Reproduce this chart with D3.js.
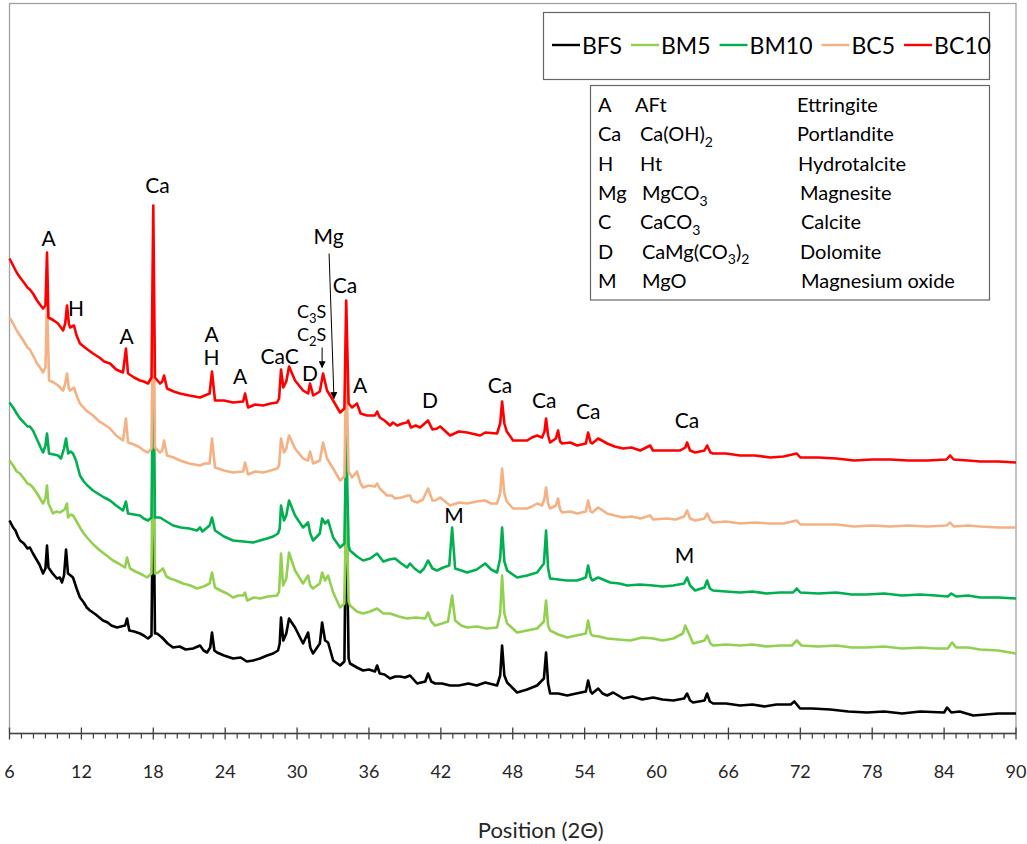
<!DOCTYPE html>
<html><head><meta charset="utf-8">
<script src="https://cdn.jsdelivr.net/npm/d3@7"></script>
<style>
body{margin:0;background:#fff}
svg{display:block;font-family:Lato,'Open Sans',sans-serif}
</style>
</head><body>
<svg id="chart" width="1027" height="844"></svg>
<script>
// ---------------- DATA ----------------
const seriesNames = ["BFS", "BM5", "BM10", "BC5", "BC10"];
const xTicks = [6, 12, 18, 24, 30, 36, 42, 48, 54, 60, 66, 72, 78, 84, 90];
const xTitle = "Position (2Θ)";

// [2θ, intensity]
const BFS = [[6.0,213],[6.3,206],[6.5,203],[6.7,197],[6.88,193],[7.2,190],[7.5,185],[7.7,186],[7.96,180],[8.2,175],[8.5,169],[8.8,160],[9.0,165],[9.13,188],[9.25,166],[9.6,160],[9.96,155],[10.2,156],[10.38,151],[10.55,158],[10.72,184],[10.88,160],[11.1,158],[11.3,156],[11.6,145],[11.88,136],[12.2,131],[12.45,126],[12.72,123],[13.2,119],[13.5,116],[13.8,113],[14.2,111],[14.5,108],[14.97,106],[15.3,107],[15.65,108],[15.81,115],[16.0,103],[16.4,102],[16.89,100],[17.2,98],[17.56,95],[17.85,98],[18.0,270],[18.14,100],[18.31,100],[18.73,96],[19.2,90],[19.65,86],[20.2,87],[20.7,84],[21.32,85],[21.9,88],[22.2,83],[22.49,81],[22.75,86],[22.9,101],[23.1,83],[23.32,81],[23.9,78],[24.66,75],[25.3,76],[25.8,72],[26.33,73],[26.9,75],[27.5,78],[28.0,80],[28.41,83],[28.55,90],[28.66,116],[28.85,93],[29.1,100],[29.33,115],[29.83,106],[30.5,90],[30.92,101],[31.1,86],[31.33,80],[31.9,90],[32.09,111],[32.34,93],[32.59,91],[33.01,73],[33.59,68],[33.95,72],[34.1,240],[34.3,75],[34.42,70],[35.0,66],[35.51,63],[36.0,64],[36.5,62],[36.68,68],[36.9,60],[37.3,59],[37.76,55],[38.2,57],[38.6,57],[39.0,56],[39.43,58],[40.02,50],[40.7,52],[40.93,60],[41.2,52],[41.52,50],[42.1,50],[42.77,48],[43.5,48],[44.3,50],[45.0,48],[45.7,51],[46.69,48],[46.95,58],[47.11,88],[47.3,58],[47.53,51],[48.36,41],[49.2,44],[50.03,48],[50.6,55],[50.78,81],[50.95,50],[51.12,40],[51.8,40],[52.54,38],[53.3,40],[54.1,42],[54.29,53],[54.5,42],[54.63,40],[55.13,45],[55.5,40],[55.88,38],[56.38,41],[57.22,35],[58.0,37],[58.8,34],[59.72,36],[60.5,34],[61.39,33],[62.3,35],[62.55,40],[62.8,33],[63.05,31],[64.0,33],[64.22,40],[64.45,32],[64.72,30],[65.8,30],[66.97,28],[68.0,29],[69.0,27],[70.0,29],[71.2,29],[71.5,32],[71.98,25],[73.0,25],[74.5,24],[76.0,22],[77.57,21],[79.0,22],[80.5,20],[82.0,22],[84.0,21],[84.25,26],[84.6,21],[85.3,22],[86.43,18],[87.5,19],[88.5,20],[90,20]];

const BM5 = [[6.0,273],[6.3,268],[6.6,262],[6.88,260],[7.2,255],[7.5,250],[7.7,249],[7.96,246],[8.3,240],[8.6,234],[8.8,230],[9.0,235],[9.13,248],[9.25,230],[9.63,220],[9.9,222],[10.22,221],[10.6,224],[10.8,230],[10.88,216],[11.1,219],[11.3,218],[11.6,212],[11.88,206],[12.2,200],[12.47,196],[13.0,189],[13.55,183],[14.1,178],[14.64,173],[15.1,170],[15.64,166],[15.81,176],[16.06,165],[16.5,162],[16.89,160],[17.2,158],[17.48,156],[17.85,160],[18.0,330],[18.14,160],[18.4,161],[18.81,165],[19.1,157],[19.4,155],[19.9,153],[20.48,150],[21.1,148],[21.65,145],[22.2,147],[22.7,150],[22.9,161],[23.15,146],[23.6,143],[24.16,140],[24.66,136],[25.1,138],[25.5,138],[25.66,141],[25.83,133],[26.4,136],[26.92,135],[27.6,137],[28.33,138],[28.5,142],[28.66,180],[28.83,148],[29.1,155],[29.33,181],[29.83,163],[30.5,150],[30.92,158],[31.1,148],[31.33,145],[31.9,150],[32.09,161],[32.34,153],[32.59,158],[33.01,141],[33.59,126],[33.95,130],[34.1,240],[34.3,132],[34.42,128],[35.0,122],[35.51,120],[36.1,122],[36.68,125],[37.2,120],[37.76,120],[38.5,117],[39.18,115],[39.9,116],[40.7,115],[40.93,121],[41.2,112],[41.52,108],[42.1,110],[42.6,112],[42.94,138],[43.19,113],[43.7,108],[44.19,106],[45.0,107],[45.8,105],[46.69,106],[46.95,120],[47.11,158],[47.3,120],[47.53,110],[48.36,101],[49.2,103],[50.03,105],[50.6,112],[50.78,133],[50.95,108],[51.12,103],[51.8,99],[52.54,96],[53.3,98],[54.1,100],[54.29,113],[54.5,100],[54.63,98],[55.2,97],[55.88,95],[56.8,94],[57.8,93],[58.8,96],[59.72,95],[60.5,93],[61.39,95],[62.2,100],[62.39,108],[62.7,100],[63.05,90],[64.0,93],[64.22,98],[64.5,90],[64.72,88],[65.8,89],[66.97,88],[68.0,89],[69.2,87],[70.3,88],[71.3,88],[71.7,93],[72.1,88],[73.5,87],[75.0,88],[76.3,86],[77.5,86],[79.0,87],[80.5,85],[82.0,86],[83.3,85],[84.3,85],[84.67,91],[85.0,86],[86.0,86],[87,84],[88.5,83],[90,80]];

const BM10 = [[6.0,331],[6.3,326],[6.6,320],[6.88,315],[7.2,311],[7.5,307],[7.7,307],[7.96,303],[8.3,294],[8.6,286],[8.8,281],[9.0,288],[9.13,300],[9.3,280],[9.7,279],[10.05,278],[10.3,275],[10.55,285],[10.72,295],[10.9,280],[11.1,282],[11.3,280],[11.55,273],[11.88,258],[12.2,252],[12.5,248],[12.97,243],[13.5,239],[13.9,236],[14.39,233],[14.9,228],[15.47,223],[15.72,232],[15.89,220],[16.4,219],[16.89,218],[17.2,215],[17.56,213],[17.85,216],[18.0,390],[18.14,216],[18.56,216],[19.1,212],[19.65,208],[20.3,206],[21.0,205],[21.65,203],[21.9,206],[22.1,202],[22.7,208],[22.9,216],[23.15,203],[23.9,197],[24.66,193],[25.5,192],[26.33,191],[26.9,193],[27.5,195],[28.0,197],[28.41,200],[28.55,205],[28.66,228],[28.91,213],[29.1,218],[29.33,233],[29.83,218],[30.5,206],[30.92,211],[31.1,200],[31.33,193],[31.9,200],[32.09,215],[32.34,210],[32.59,213],[33.01,196],[33.59,186],[33.95,190],[34.1,300],[34.3,188],[34.42,183],[35.0,177],[35.51,173],[36.1,175],[36.68,180],[37.2,172],[37.7,174],[38.18,175],[38.7,170],[39.18,166],[39.43,170],[39.8,165],[40.27,161],[40.6,165],[40.93,173],[41.3,165],[41.68,163],[42.2,166],[42.7,168],[42.94,206],[43.19,165],[43.7,163],[44.19,161],[45.0,164],[45.7,170],[46.2,164],[46.69,161],[46.95,175],[47.11,206],[47.3,172],[47.53,163],[48.36,156],[49.2,158],[50.03,161],[50.6,170],[50.78,203],[50.95,165],[51.12,155],[51.8,154],[52.54,153],[53.37,153],[54.1,156],[54.29,168],[54.5,156],[54.63,153],[55.13,156],[56.13,151],[56.9,150],[57.55,148],[58.6,149],[59.72,148],[60.5,147],[61.39,148],[62.3,150],[62.55,156],[62.8,148],[63.22,143],[64.0,146],[64.22,153],[64.45,145],[64.72,143],[65.8,142],[66.97,141],[68.0,142],[69.2,140],[70.3,141],[71.4,141],[71.7,145],[72.0,141],[73.5,140],[75.0,141],[76.3,139],[77.5,139],[79.0,140],[80.5,138],[82.0,139],[83.3,138],[84.3,137],[84.6,140],[85.0,137],[86.0,138],[87,136],[88.5,136],[90,135]];

const BC5 = [[6.0,416],[6.3,410],[6.6,403],[6.88,398],[7.2,392],[7.5,386],[7.7,384],[7.96,378],[8.3,370],[8.6,365],[8.8,361],[9.0,366],[9.13,433],[9.3,353],[9.7,351],[10.05,348],[10.47,343],[10.65,350],[10.8,360],[10.95,345],[11.05,343],[11.38,346],[11.6,338],[11.88,330],[12.4,323],[12.97,318],[13.5,312],[13.9,309],[14.39,305],[14.9,298],[15.47,293],[15.72,315],[15.89,291],[16.4,289],[16.89,286],[17.2,283],[17.56,281],[17.85,285],[18.0,455],[18.14,286],[18.56,281],[18.75,283],[18.9,293],[19.15,278],[19.7,276],[20.23,273],[21.0,270],[21.9,268],[22.3,270],[22.7,270],[22.9,295],[23.15,266],[23.9,263],[24.66,261],[25.5,262],[25.66,271],[25.91,259],[26.5,262],[27.16,261],[27.8,263],[28.33,265],[28.5,268],[28.66,295],[28.91,281],[29.1,285],[29.33,298],[29.83,285],[30.5,275],[30.92,273],[31.08,282],[31.35,270],[31.9,273],[32.17,291],[32.5,275],[33.01,265],[33.59,253],[33.95,257],[34.1,368],[34.3,262],[34.59,256],[35.0,262],[35.3,250],[35.51,246],[36.0,248],[36.5,247],[36.68,250],[36.9,245],[37.51,238],[37.9,238],[38.18,235],[38.7,236],[39.27,238],[39.43,238],[39.6,233],[40.02,231],[40.5,234],[40.93,245],[41.3,233],[41.52,233],[41.94,236],[42.77,228],[43.5,231],[44.19,230],[45.0,232],[45.7,233],[46.2,230],[46.69,230],[46.95,240],[47.11,265],[47.3,240],[47.5,232],[48.03,225],[49.2,225],[49.6,227],[50.03,230],[50.45,228],[50.65,235],[50.78,246],[50.95,230],[51.12,225],[51.6,228],[51.78,235],[51.95,224],[52.12,221],[52.8,222],[53.37,220],[54.1,222],[54.29,233],[54.5,222],[54.63,221],[55.13,226],[55.88,220],[56.5,218],[57.22,216],[57.9,217],[58.64,215],[59.47,218],[59.7,214],[60.89,215],[61.6,214],[62.3,217],[62.55,223],[62.8,215],[63.22,213],[64.0,215],[64.22,220],[64.5,213],[64.72,211],[65.8,212],[66.97,210],[68.2,211],[69.5,210],[70.6,210],[71.7,213],[72.0,209],[73.5,209],[75,209],[76.5,207],[78,208],[79.5,207],[81,208],[82.6,207],[84.2,208],[84.5,211],[84.8,207],[86,208],[87,207],[88.5,206],[90,206]];

const BC10 = [[6.0,475],[6.3,468],[6.6,461],[6.88,456],[7.2,451],[7.5,446],[7.7,444],[7.96,440],[8.3,433],[8.6,428],[8.8,425],[9.0,428],[9.13,481],[9.25,416],[9.7,413],[10.05,410],[10.47,403],[10.65,410],[10.8,428],[10.95,410],[11.05,406],[11.38,408],[11.6,398],[11.88,390],[12.4,385],[12.97,380],[13.5,376],[13.9,372],[14.39,370],[14.9,364],[15.47,361],[15.72,385],[15.89,360],[16.4,356],[16.89,353],[17.2,352],[17.56,350],[17.85,356],[18.0,528],[18.14,356],[18.56,350],[18.75,352],[18.9,358],[19.15,345],[19.7,342],[20.23,340],[21.0,338],[21.9,336],[22.3,338],[22.7,340],[22.9,362],[23.15,333],[23.9,333],[24.66,331],[25.5,332],[25.66,340],[25.91,326],[26.5,329],[27.16,328],[27.8,330],[28.33,331],[28.5,335],[28.66,364],[28.85,346],[29.1,352],[29.33,367],[29.83,353],[30.5,343],[30.92,340],[31.08,350],[31.35,338],[31.9,342],[32.17,360],[32.5,343],[33.01,333],[33.59,321],[33.95,325],[34.1,433],[34.3,330],[34.59,326],[35.0,330],[35.3,320],[35.84,318],[36.5,318],[36.68,322],[36.9,316],[37.3,313],[37.76,308],[38.0,311],[38.35,308],[38.8,310],[39.18,311],[39.27,313],[39.5,306],[39.9,308],[40.27,306],[40.93,313],[41.3,304],[41.68,305],[41.94,307],[42.77,298],[43.5,302],[44.19,301],[45.28,298],[45.7,301],[46.69,300],[46.95,310],[47.11,332],[47.3,310],[47.5,302],[48.03,293],[49.2,293],[49.6,296],[50.03,298],[50.45,296],[50.65,302],[50.78,315],[50.95,298],[51.12,291],[51.6,295],[51.78,303],[51.95,292],[52.12,290],[52.8,291],[53.37,288],[54.1,290],[54.29,301],[54.5,291],[54.63,290],[55.13,295],[55.88,290],[56.5,287],[57.22,285],[57.9,286],[58.64,283],[59.47,288],[59.7,283],[60.89,283],[61.97,283],[62.4,286],[62.55,291],[62.8,283],[63.22,281],[64.0,283],[64.22,288],[64.5,281],[64.72,280],[65.8,280],[66.97,278],[68.2,278],[69.5,276],[70.6,277],[71.7,280],[72.0,276],[73.5,276],[75,275],[76.5,273],[78,274],[79.5,274],[81,273],[82.6,273],[84.2,274],[84.5,278],[84.8,274],[86,273],[87,272],[88.5,272],[90,271]];

const seriesData = [BFS, BM5, BM10, BC5, BC10];

// phase key table
const keyCodes = ["A", "Ca", "H", "Mg", "C", "D", "M"];
const keyFormulas = ["AFt", "Ca(OH)_2", "Ht", "MgCO_3", "CaCO_3", "CaMg(CO_3)_2", "MgO"];
const keyNames = ["Ettringite", "Portlandite", "Hydrotalcite", "Magnesite", "Calcite", "Dolomite", "Magnesium oxide"];

// peak labels: text, 2θ, intensity of label baseline
const peakLabelText = ["A","H","A","Ca","A","H","A","CaC","D","Mg","Ca","A","D","Ca","Ca","Ca","Ca","M","M"];
const peakLabelX    = [9.26,11.55,15.77,18.35,22.86,22.86,25.24,28.54,31.08,32.63,34.0,35.26,41.1,46.94,50.62,54.29,62.55,43.1,62.34];
const peakLabelY    = [488,418,390,541,392,369,350,370,353,490,441,341,326,341,326,315,306,211,171];
const phaseSmallText = ["C_3S", "C_2S"];
const phaseSmallX = [31.21, 31.21];
const phaseSmallY = [416, 393];
// arrows [x1,y1,x2,y2] in data units
const arrowMg  = [32.67, 480, 33.08, 335];
const arrowC2S = [32.09, 386, 32.09, 366];

// ---------------- STYLE ----------------
const colors = {BFS:"#000000", BM5:"#92D050", BM10:"#00B050", BC5:"#F4B183", BC10:"#FF0000"};

const svg = d3.select("#chart");
const plot = {left: 9.5, right: 1016, top: 3.5, bottom: 733.5};

const x = d3.scaleLinear().domain([6, 90]).range([plot.left, plot.right]);
const y = d3.scaleLinear().domain([0, 730]).range([plot.bottom, plot.bottom - 730]);

// frame
svg.append("rect").attr("x", plot.left).attr("y", plot.top)
  .attr("width", plot.right - plot.left).attr("height", plot.bottom - plot.top)
  .attr("fill", "none").attr("stroke", "#a0a0a0").attr("stroke-width", 1.3);

// series
const line = d3.line().x(d => x(d[0])).y(d => y(d[1])).curve(d3.curveLinear);
seriesData.forEach((s, i) => {
  svg.append("path").datum(s).attr("d", line)
    .attr("fill", "none").attr("stroke", colors[seriesNames[i]])
    .attr("stroke-width", 2.6).attr("stroke-linejoin", "round");
});

// x axis
const axisG = svg.append("g").attr("transform", `translate(0,${plot.bottom})`);
axisG.append("line").attr("x1", plot.left).attr("x2", plot.right).attr("stroke", "#404040").attr("stroke-width", 1.3);
const minor = d3.range(6, 91, 1).filter(v => !xTicks.includes(v));
axisG.selectAll("line.minor").data(minor).join("line").attr("class","minor")
  .attr("x1", d => x(d)).attr("x2", d => x(d)).attr("y1", 0).attr("y2", 5)
  .attr("stroke", "#404040").attr("stroke-width", 1.2);
axisG.selectAll("line.major").data(xTicks).join("line").attr("class","major")
  .attr("x1", d => x(d)).attr("x2", d => x(d)).attr("y1", -6).attr("y2", 6)
  .attr("stroke", "#404040").attr("stroke-width", 1.3);
axisG.selectAll("text").data(xTicks).join("text")
  .attr("x", d => x(d)).attr("y", 44).attr("text-anchor", "middle")
  .attr("font-size", 18).attr("fill", "#262626").text(d => d);

svg.append("text").attr("x", (plot.left + plot.right) / 2 + 28).attr("y", 838)
  .attr("text-anchor", "middle").attr("font-size", 22).attr("fill", "#262626").text(xTitle);

// helper for subscripts: "_d" marks a subscript digit
function richText(sel, str, size, subSize) {
  const parts = str.split(/_(\d)/);
  const shift = size * 0.28;
  let lowered = false;
  parts.forEach((p, i) => {
    if (!p) return;
    const ts = sel.append("tspan").text(p);
    if (i % 2 === 1) {
      ts.attr("font-size", subSize).attr("dy", shift);
      lowered = true;
    } else if (lowered) {
      ts.attr("dy", -shift);
      lowered = false;
    }
  });
}

// peak labels
peakLabelText.forEach((t, i) => {
  svg.append("text").attr("x", x(peakLabelX[i])).attr("y", y(peakLabelY[i]))
    .attr("text-anchor", "middle").attr("font-size", 21).attr("fill", "#000").text(t);
});
phaseSmallText.forEach((t, i) => {
  const tx = svg.append("text").attr("x", x(phaseSmallX[i])).attr("y", y(phaseSmallY[i]))
    .attr("text-anchor", "middle").attr("font-size", 18).attr("fill", "#000");
  richText(tx, t, 18, 13);
});

// arrows
const defs = svg.append("defs");
defs.append("marker").attr("id", "ah").attr("viewBox", "0 0 10 10").attr("refX", 9).attr("refY", 5)
  .attr("markerWidth", 7).attr("markerHeight", 7).attr("markerUnits", "userSpaceOnUse").attr("orient", "auto")
  .append("path").attr("d", "M0,0 L10,5 L0,10 Z").attr("fill", "#000");
[arrowMg, arrowC2S].forEach(a => {
  svg.append("line").attr("x1", x(a[0])).attr("y1", y(a[1])).attr("x2", x(a[2])).attr("y2", y(a[3]))
    .attr("stroke", "#000").attr("stroke-width", 1).attr("marker-end", "url(#ah)");
});

// legend 1 (series)
const lg = svg.append("g");
lg.append("rect").attr("x", 543.5).attr("y", 12.5).attr("width", 446).attr("height", 67)
  .attr("fill", "#fff").attr("stroke", "#666").attr("stroke-width", 1.2);
let lx = 552;
seriesNames.forEach(n => {
  lg.append("line").attr("x1", lx).attr("x2", lx + 28).attr("y1", 45).attr("y2", 45)
    .attr("stroke", colors[n]).attr("stroke-width", 2.4);
  const t = lg.append("text").attr("x", lx + 30).attr("y", 54).attr("font-size", 23).attr("fill", "#000").text(n);
  lx += 30 + t.node().getComputedTextLength() + 9;
});

// legend 2 (phase key)
const kg = svg.append("g");
kg.append("rect").attr("x", 590.5).attr("y", 85.5).attr("width", 399).attr("height", 214.5)
  .attr("fill", "#fff").attr("stroke", "#666").attr("stroke-width", 1.2);
const col2 = [635, 640, 640, 642, 640, 642, 642];
const col3 = [797, 797, 798, 800, 801, 800, 801];
keyCodes.forEach((c, i) => {
  const by = 112 + i * 29.3;
  kg.append("text").attr("x", 598).attr("y", by).attr("font-size", 20).text(c);
  const t2 = kg.append("text").attr("x", col2[i]).attr("y", by).attr("font-size", 20);
  richText(t2, keyFormulas[i], 20, 14);
  kg.append("text").attr("x", col3[i]).attr("y", by).attr("font-size", 20).text(keyNames[i]);
});
</script>
</body></html>
